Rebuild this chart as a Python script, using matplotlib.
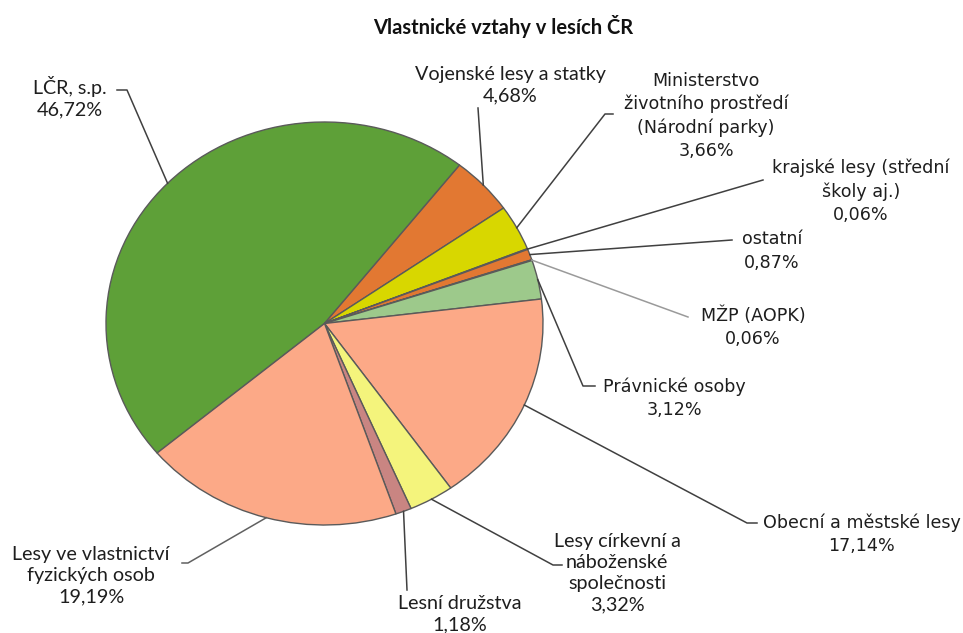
import matplotlib
matplotlib.use("Agg")
import matplotlib.pyplot as plt
import numpy as np
from matplotlib.lines import Line2D

W, H = 963, 633

# ---- data ----
categories = [
    "LČR, s.p.",
    "Vojenské lesy a statky",
    "Ministerstvo\nživotního prostředí\n(Národní parky)",
    "krajské lesy (střední\nškoly aj.)",
    "ostatní",
    "MŽP (AOPK)",
    "Právnické osoby",
    "Obecní a městské lesy",
    "Lesy církevní a\nnáboženské\nspolečnosti",
    "Lesní družstva",
    "Lesy ve vlastnictví\nfyzických osob",
]
values = [46.72, 4.68, 3.66, 0.06, 0.87, 0.06, 3.12, 17.14, 3.32, 1.18, 19.19]
value_labels = ["46,72%", "4,68%", "3,66%", "0,06%", "0,87%", "0,06%",
                "3,12%", "17,14%", "3,32%", "1,18%", "19,19%"]
colors = ["#5EA038", "#E27832", "#D8D700", "#9B9B9B", "#E27832", "#BFBFBF",
          "#9DC98B", "#FCA987", "#F4F47C", "#C98582", "#FCA987"]

CAL = ["Lato", "DejaVu Sans"]
VER = ["DejaVu Sans"]
# label block centre (px from top-left), font, leader polyline from label side
label_specs = [
    ((70, 97), CAL, [(117, 90), (127, 90)]),
    ((510, 85), CAL, [(478, 108)]),
    ((706, 116), VER, [(613, 114), (605, 114)]),
    ((861, 191), VER, [(763, 180)]),
    ((772, 251), VER, [(732, 240)]),
    ((753, 327), VER, [(688, 317)]),
    ((674, 398), VER, [(595, 386), (583, 386)]),
    ((862, 534), VER, [(757, 523), (747, 523)]),
    ((617, 573), CAL, [(562, 565), (553, 565)]),
    ((460, 614), CAL, [(407, 590)]),
    ((91, 576), CAL, [(182, 563), (188, 563)]),
]
line_colors = ["#404040"] * 11
line_colors[5] = "#9A9A9A"
line_colors[10] = "#606060"

fig = plt.figure(figsize=(W / 100, H / 100), dpi=100)
fig.patch.set_facecolor("white")

# pie ellipse bbox in px
x0, x1, y0, y1 = 106, 543, 122, 525
ax = fig.add_axes([x0 / W, 1 - y1 / H, (x1 - x0) / W, (y1 - y0) / H])
wedges, _ = ax.pie(values, colors=colors, startangle=220, counterclock=False,
                   wedgeprops=dict(edgecolor="#5A5A5A", linewidth=1.0))
ax.set_aspect("auto")
ax.set_xlim(-1, 1)
ax.set_ylim(-1, 1)
ax.axis("off")

def px(x, y):
    return x / W, 1 - y / H

fig.canvas.draw()
inv = fig.transFigure.inverted()
for w, cat, val, (ctr, fam, pts), lc in zip(wedges, categories, value_labels,
                                            label_specs, line_colors):
    ang = np.deg2rad((w.theta1 + w.theta2) / 2)
    ex, ey = inv.transform(ax.transData.transform((np.cos(ang), np.sin(ang))))
    xs = [px(*p)[0] for p in pts] + [ex]
    ys = [px(*p)[1] for p in pts] + [ey]
    fig.add_artist(Line2D(xs, ys, transform=fig.transFigure, color=lc,
                          linewidth=1.1))
    if fam is VER:
        fs, ls = 12.6, 1.36
    else:
        fs, ls = 14.2, 1.3
    fig.text(*px(*ctr), cat + "\n" + val, ha="center", va="center",
             family=fam, fontsize=fs, color="#1E1E1E", linespacing=ls,
             multialignment="center")

fig.text(*px(503, 27), "Vlastnické vztahy v lesích ČR", ha="center",
         va="center", family=CAL, fontsize=14.5, fontweight="bold",
         color="#111111")

fig.savefig("out.png", dpi=100)
